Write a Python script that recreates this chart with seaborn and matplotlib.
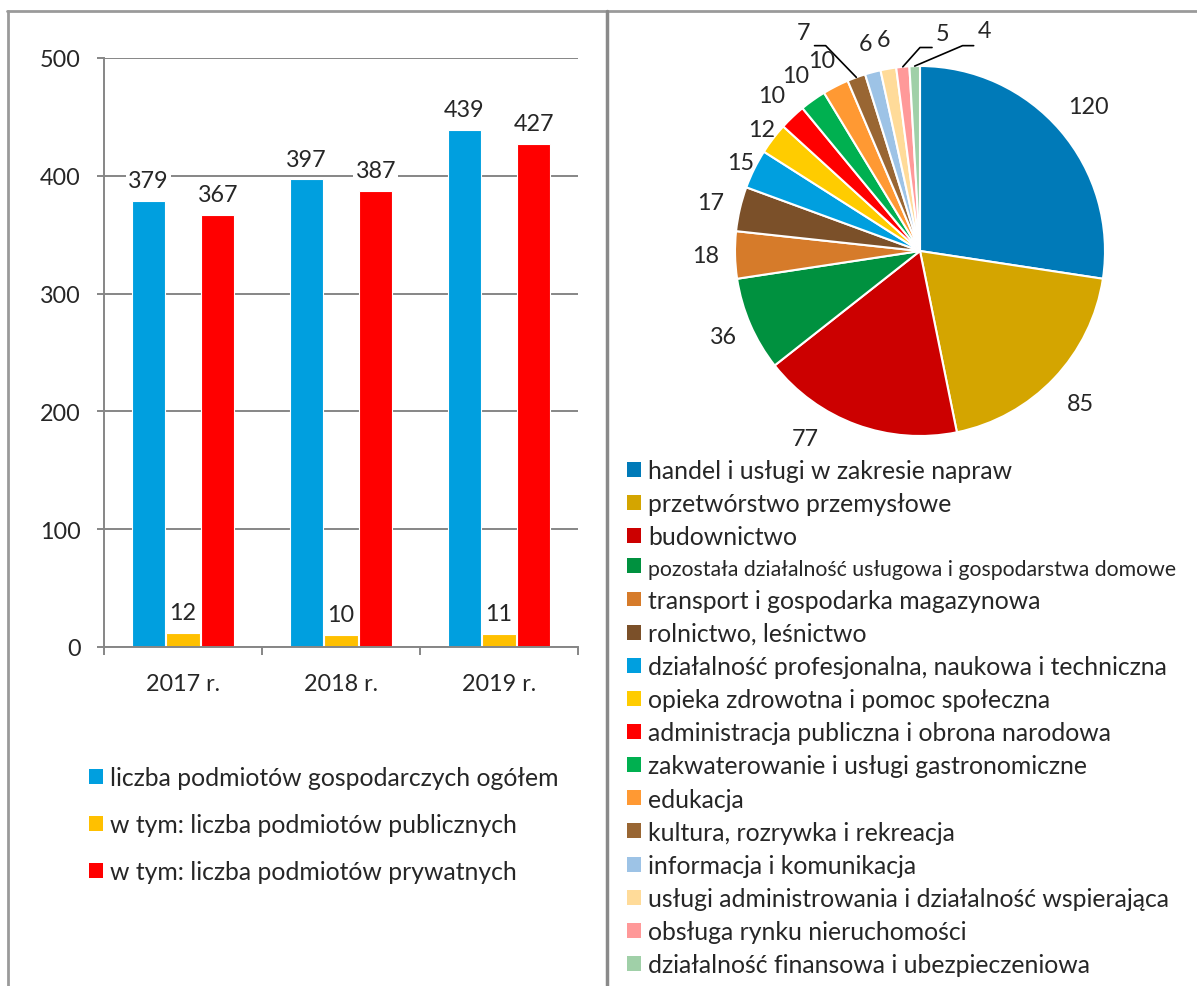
import matplotlib
matplotlib.use("Agg")
import matplotlib.pyplot as plt
import seaborn as sns
import pandas as pd
import numpy as np
from matplotlib.patches import Patch
from matplotlib.lines import Line2D

# ---------------- data ----------------
years = ["2017 r.", "2018 r.", "2019 r."]
total = [379, 397, 439]
public = [12, 10, 11]
private = [367, 387, 427]
series_names = [
    "liczba podmiotów gospodarczych ogółem",
    "w tym: liczba podmiotów publicznych",
    "w tym: liczba podmiotów prywatnych",
]
bar_colors = ["#009FDF", "#FFC000", "#FF0000"]

sectors = [
    "handel i usługi w zakresie napraw",
    "przetwórstwo przemysłowe",
    "budownictwo",
    "pozostała działalność usługowa i gospodarstwa domowe",
    "transport i gospodarka magazynowa",
    "rolnictwo, leśnictwo",
    "działalność profesjonalna, naukowa i techniczna",
    "opieka zdrowotna i pomoc społeczna",
    "administracja publiczna i obrona narodowa",
    "zakwaterowanie i usługi gastronomiczne",
    "edukacja",
    "kultura, rozrywka i rekreacja",
    "informacja i komunikacja",
    "usługi administrowania i działalność wspierająca",
    "obsługa rynku nieruchomości",
    "działalność finansowa i ubezpieczeniowa",
]
sector_counts = [120, 85, 77, 36, 18, 17, 15, 12, 10, 10, 10, 7, 6, 6, 5, 4]
sector_colors = [
    "#007AB8", "#D4A500", "#CC0000", "#00913F", "#D67B2A", "#7B5029",
    "#009FDF", "#FFCC00", "#FF0000", "#00B050", "#FF9933", "#996633",
    "#9DC3E6", "#FFDB99", "#FF9999", "#A0D0A8",
]

# ---------------- style ----------------
sns.set_theme(style="white")
plt.rcParams["font.family"] = ["Lato", "DejaVu Sans"]
FS = 16.8      # numbers / ticks
FSL = 17.8     # legends

W, H = 1197, 987
fig = plt.figure(figsize=(W / 100, H / 100), dpi=100)


def fx(px):
    return px / W


def fy(py):
    return 1 - py / H


grey = "#868686"

# ---------------- bar chart ----------------
ax = fig.add_axes([fx(104), fy(648), fx(578) - fx(104), fy(59) - fy(648)])
df = pd.DataFrame({
    "year": years * 3,
    "series": [n for n in series_names for _ in years],
    "value": total + public + private,
})
sns.barplot(data=df, x="year", y="value", hue="series", hue_order=series_names,
            palette=bar_colors, saturation=1, width=0.66, gap=0.05,
            ax=ax, legend=False, edgecolor="white", linewidth=0.8)
for cont in ax.containers:
    ax.bar_label(cont, padding=7, fontsize=FS,
                 bbox=dict(facecolor="white", edgecolor="none", pad=1.5))
ax.set_ylim(0, 500)
ax.set_xlim(-0.5, 2.5)
ax.set_yticks(range(0, 501, 100))
ax.set_xlabel("")
ax.set_ylabel("")
ax.yaxis.grid(True, color=grey, linewidth=1.4)
ax.xaxis.grid(False)
ax.set_axisbelow(True)
for s in ["top", "right"]:
    ax.spines[s].set_visible(False)
for s in ["left", "bottom"]:
    ax.spines[s].set_color(grey)
    ax.spines[s].set_linewidth(1.4)
ax.tick_params(axis="y", which="major", length=5, width=1.4, color=grey,
               pad=12, labelsize=FS, left=True)
ax.tick_params(axis="x", which="major", length=0, pad=19, labelsize=FS)
ax.set_xticks([-0.5, 0.5, 1.5, 2.5], minor=True)
ax.tick_params(axis="x", which="minor", length=6, width=1.4, color=grey,
               bottom=True, direction="out")

handles = [Patch(facecolor=c, edgecolor="none") for c in bar_colors]
fig.legend(handles, series_names, loc="upper left",
           bbox_to_anchor=(fx(89), fy(767)), frameon=False, fontsize=FSL,
           handlelength=0.55, handleheight=0.55, handletextpad=0.3,
           labelspacing=0.98, borderaxespad=0, borderpad=0)

# ---------------- pie chart ----------------
R = 185
ax2 = fig.add_axes([fx(920 - R), fy(252 + R), 2 * R / W, 2 * R / H])
wedges, _ = ax2.pie(sector_counts, colors=sector_colors, startangle=90,
                    counterclock=False, radius=1,
                    wedgeprops=dict(edgecolor="white", linewidth=1.5))
ax2.set_xlim(-1, 1)
ax2.set_ylim(-1, 1)
ax2.set_aspect("equal")
ax2.axis("off")

# label placement tweaks for crowded slices (angle, radius, leader elbow)
special = {11: (118.0, 1.34, -0.51, 1.11, -0.57),
           14: (84.1, 1.18, 0.0, 1.10, 0.065),
           15: (73.6, 1.24, 0.23, 1.11, 0.29)}
moved = {2: (-121.5, 1.19)}
for i, (w, v) in enumerate(zip(wedges, sector_counts)):
    mid = np.deg2rad((w.theta1 + w.theta2) / 2)
    if i in special:
        ang, rr, ex, ey, hx = special[i]
        a = np.deg2rad(ang)
        tx, ty = rr * np.cos(a), rr * np.sin(a)
        sx, sy = np.cos(mid), np.sin(mid)
        ax2.plot([sx, ex, hx], [sy, ey, ey], color="black", lw=1.2,
                 clip_on=False)
    elif i in moved:
        ang, rr = moved[i]
        a = np.deg2rad(ang)
        tx, ty = rr * np.cos(a), rr * np.sin(a)
    else:
        if v >= 50:
            rr = 1.2
        elif i in (6, 7):
            rr = 1.08
        else:
            rr = 1.16
        tx, ty = rr * np.cos(mid), rr * np.sin(mid)
    ax2.text(tx, ty, str(v), ha="center", va="center", fontsize=FS,
             clip_on=False)

handles2 = [Patch(facecolor=c, edgecolor="none") for c in sector_colors]
leg2 = fig.legend(handles2, sectors, loc="upper left",
                  bbox_to_anchor=(fx(627), fy(460)), frameon=False,
                  fontsize=FSL, handlelength=0.55, handleheight=0.55,
                  handletextpad=0.3, labelspacing=0.41, borderaxespad=0,
                  borderpad=0)
leg2.get_texts()[3].set_fontsize(15.3)

# ---------------- frame lines ----------------
frame_col = "#9A9A9A"
fig.add_artist(Line2D([fx(7), 1], [fy(12), fy(12)], color=frame_col, lw=2,
                      transform=fig.transFigure))
fig.add_artist(Line2D([fx(8), fx(8)], [fy(12), 0], color=frame_col, lw=2,
                      transform=fig.transFigure))
fig.add_artist(Line2D([fx(607), fx(607)], [fy(12), 0], color="#8A8A8A",
                      lw=2.5, transform=fig.transFigure))

fig.savefig("out.png", dpi=100, facecolor="white")
